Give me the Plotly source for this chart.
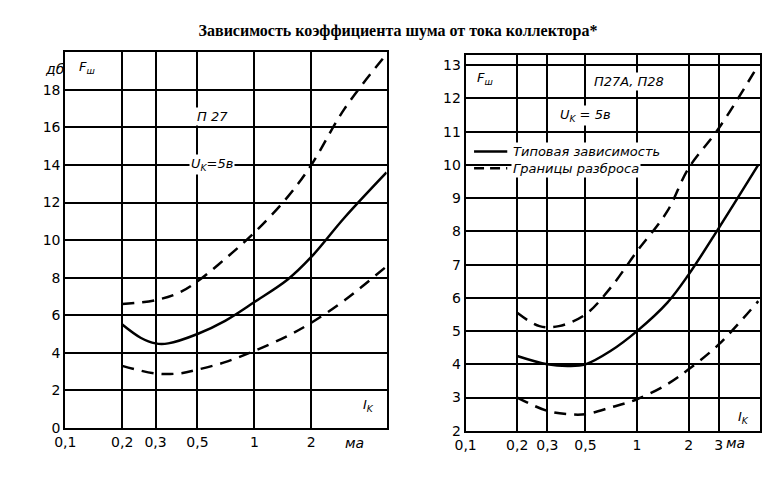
import math
import plotly.graph_objects as go

# collector current, mA
ik_left = [0.2, 0.25, 0.3, 0.35, 0.5, 0.7, 1, 1.5, 2, 3, 5]
f_left_typ = [5.5, 4.8, 4.5, 4.5, 5.0, 5.7, 6.7, 7.9, 9.1, 11.2, 13.6]
ik_left_d = [0.2, 0.3, 0.4, 0.5, 0.7, 1, 1.5, 2, 3, 5]
f_left_hi = [6.6, 6.8, 7.2, 7.8, 9.0, 10.4, 12.3, 14.0, 17.0, 19.9]
f_left_lo = [3.3, 2.9, 2.9, 3.1, 3.5, 4.1, 4.9, 5.6, 6.8, 8.6]

ik_right = [0.2, 0.3, 0.4, 0.5, 0.7, 1, 1.5, 2, 3, 5.1]
f_right_typ = [4.25, 4.0, 3.95, 4.0, 4.4, 5.0, 5.85, 6.7, 8.1, 10.0]
f_right_lo = [3.0, 2.6, 2.5, 2.5, 2.7, 2.95, 3.4, 3.85, 4.6, 5.9]
ik_right_hi = [0.2, 0.27, 0.35, 0.5, 0.7, 1, 1.5, 2, 3, 5.1]
f_right_hi = [5.55, 5.15, 5.15, 5.5, 6.3, 7.4, 8.6, 9.9, 11.1, 13.0]

x_ticks_left = [0.1, 0.2, 0.3, 0.5, 1, 2]
x_ticks_right = [0.1, 0.2, 0.3, 0.5, 1, 2, 3]
y_ticks_left = [0, 2, 4, 6, 8, 10, 12, 14, 16, 18]
y_ticks_right = list(range(2, 14))

tick_font = dict(family="DejaVu Sans", size=14, color="black")
DASH = "12px,8px"
fig = go.Figure()

def curve(x, y, xa, ya, dash):
    fig.add_trace(go.Scatter(x=x, y=y, xaxis=xa, yaxis=ya, mode="lines",
                             line=dict(color="black", width=2.5, dash=dash, shape="spline"),
                             showlegend=False, hoverinfo="skip"))

curve(ik_left, f_left_typ, "x", "y", "solid")
curve(ik_left_d, f_left_hi, "x", "y", DASH)
curve(ik_left_d, f_left_lo, "x", "y", DASH)
curve(ik_right, f_right_typ, "x2", "y2", "solid")
curve(ik_right_hi, f_right_hi, "x2", "y2", DASH)
curve(ik_right, f_right_lo, "x2", "y2", DASH)

axis_common = dict(showline=True, linecolor="black", linewidth=2, mirror=True,
                   showgrid=True, gridcolor="black", gridwidth=1.5, zeroline=False,
                   ticks="", tickfont=tick_font)

fig.update_layout(
    width=780, height=480, plot_bgcolor="white", paper_bgcolor="white",
    margin=dict(l=0, r=0, t=0, b=0),
    title=dict(text="<b>Зависимость коэффициента шума от тока коллектора*</b>",
               x=0.5, y=0.965, xanchor="center",
               font=dict(family="Liberation Serif", size=16, color="black")),
    xaxis=dict(type="log", range=[-1, 0.70], domain=[47/780, 373/780],
               tickvals=x_ticks_left, ticktext=[str(v).replace(".", ",") for v in x_ticks_left],
               anchor="y", **axis_common),
    yaxis=dict(range=[0, 20], domain=[1-427/480, 1-45/480], tickvals=y_ticks_left,
               anchor="x", **axis_common),
    xaxis2=dict(type="log", range=[-1, 0.72], domain=[453/780, 752/780],
                tickvals=x_ticks_right, ticktext=[str(v).replace(".", ",") for v in x_ticks_right],
                anchor="y2", **axis_common),
    yaxis2=dict(range=[2, 13.3], domain=[1-430/480, 1-48/480], tickvals=y_ticks_right,
                anchor="x2", **axis_common),
)

# legend samples drawn inside the right panel
fig.add_trace(go.Scatter(x=[0.112, 0.175], y=[10.4, 10.4], xaxis="x2", yaxis="y2", mode="lines",
                         line=dict(color="black", width=2.5), showlegend=False, hoverinfo="skip"))
fig.add_trace(go.Scatter(x=[0.112, 0.175], y=[9.9, 9.9], xaxis="x2", yaxis="y2", mode="lines",
                         line=dict(color="black", width=2.5, dash="10px,6px"),
                         showlegend=False, hoverinfo="skip"))

ann_font = dict(family="DejaVu Sans", size=13, color="black")
notes = [
    ("x", "y", 0.13, 19.2, "<i>F<sub>ш</sub></i>"),
    ("x", "y", 0.6, 16.6, "<i>П 27</i>"),
    ("x", "y", 0.6, 14.0, "<i>U<sub>K</sub>=5в</i>"),
    ("x", "y", 4.0, 1.2, "<i>I<sub>K</sub></i>"),
    ("x2", "y2", 0.13, 12.6, "<i>F<sub>ш</sub></i>"),
    ("x2", "y2", 0.9, 12.5, "<i>П27А, П28</i>"),
    ("x2", "y2", 0.5, 11.5, "<i>U<sub>K</sub> = 5в</i>"),
    ("x2", "y2", 4.2, 2.4, "<i>I<sub>K</sub></i>"),
    ("x2", "y2", 0.185, 10.4, "<i>Типовая зависимость</i>"),
    ("x2", "y2", 0.185, 9.9, "<i>Границы разброса</i>"),
]
for xa, ya, x, y, t in notes:
    left = t.startswith("<i>Т") or t.startswith("<i>Г")
    fig.add_annotation(xref=xa, yref=ya, x=math.log10(x), y=y, text=t,
                       xanchor="left" if left else "center",
                       showarrow=False, font=ann_font, bgcolor="white")
fig.add_annotation(xref="paper", yref="paper", x=24/780, y=1-52/480, text="<i>дб</i>",
                   showarrow=False, font=tick_font)
fig.add_annotation(xref="paper", yref="paper", x=340/780, y=1-442/480, text="<i>ма</i>",
                   yanchor="middle", showarrow=False, font=tick_font)
fig.add_annotation(xref="paper", yref="paper", x=738/780, y=1-442/480, text="<i>ма</i>",
                   yanchor="middle", showarrow=False, font=tick_font)

fig.write_html("out.html")
